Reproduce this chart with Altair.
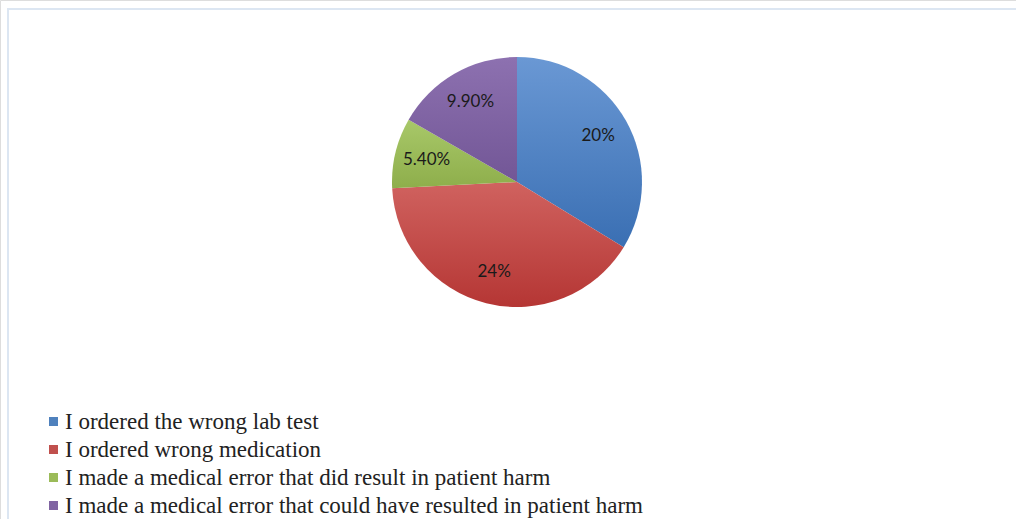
import altair as alt
import pandas as pd

# Survey answers and their shares (%)
categories = [
    "I ordered the wrong lab test",
    "I ordered wrong medication",
    "I made a medical error that did result in patient harm",
    "I made a medical error that could have resulted in patient harm",
]
values = [20, 24, 5.4, 9.9]
labels = ["20%", "24%", "5.40%", "9.90%"]

# Flat legend colours and the light/dark ends of each slice gradient
base_colors = ["#4f81bd", "#c0504d", "#9bbb59", "#8064a2"]
grad_top = ["#6a98d4", "#d0625f", "#a8c869", "#8d71b0"]
grad_bottom = ["#3a6fb3", "#b53634", "#8eae4b", "#725696"]

df = pd.DataFrame({
    "idx": list(range(len(categories))),
    "cat": categories,
    "val": values,
    "label": labels,
})

W, H = 1016, 519
CX, CY, R = 517, 182, 125


def vgrad(top, bottom):
    return {
        "gradient": "linear",
        "x1": 0, "y1": 0, "x2": 0, "y2": 1,
        "stops": [{"offset": 0, "color": top}, {"offset": 1, "color": bottom}],
    }


fill_enc = {
    "condition": [
        {"test": f"datum.idx === {i}", "value": vgrad(grad_top[i], grad_bottom[i])}
        for i in range(len(categories) - 1)
    ],
    "value": vgrad(grad_top[-1], grad_bottom[-1]),
}

base = alt.Chart(df)

pie = base.mark_arc(radius=R).encode(
    theta=alt.Theta("val:Q", stack=True),
    order=alt.Order("idx:Q"),
    fill=fill_enc,
    x=alt.value(CX),
    y=alt.value(CY),
)

# Invisible squares that carry the category legend
legend_layer = base.mark_square(opacity=0, size=81).encode(
    color=alt.Color(
        "cat:N",
        scale=alt.Scale(domain=categories, range=base_colors),
        sort=None,
        legend=alt.Legend(
            title=None,
            orient="none",
            legendX=42,
            legendY=410,
            symbolType="square",
            symbolSize=81,
            symbolStrokeWidth=0,
            symbolOpacity=1,
            labelFont="Liberation Serif",
            labelFontSize=23,
            labelColor="#222222",
            labelOffset=0,
            labelLimit=800,
            rowPadding=4,
            padding=0,
        ),
    ),
    x=alt.value(CX),
    y=alt.value(CY),
)

text = base.mark_text(
    radius=93, font="Lato", fontSize=17, color="#1a1a1a"
).encode(
    theta=alt.Theta("val:Q", stack=True),
    order=alt.Order("idx:Q"),
    text="label:N",
    x=alt.value(CX),
    y=alt.value(CY),
)

# Thin light-blue chart frame
frame = alt.Chart(pd.DataFrame({"k": [0]})).mark_rect(
    fill="transparent", stroke="#dce6f2", strokeWidth=2
).encode(
    x=alt.value(8), x2=alt.value(W + 20),
    y=alt.value(9), y2=alt.value(H + 20),
)

chart = alt.layer(frame, pie, legend_layer, text).properties(
    width=W, height=H, padding=0, autosize=alt.AutoSizeParams(type="none")
).configure_view(stroke=None).configure(background="white")

chart.save("out.html", embed_options={"renderer": "svg", "actions": False})
